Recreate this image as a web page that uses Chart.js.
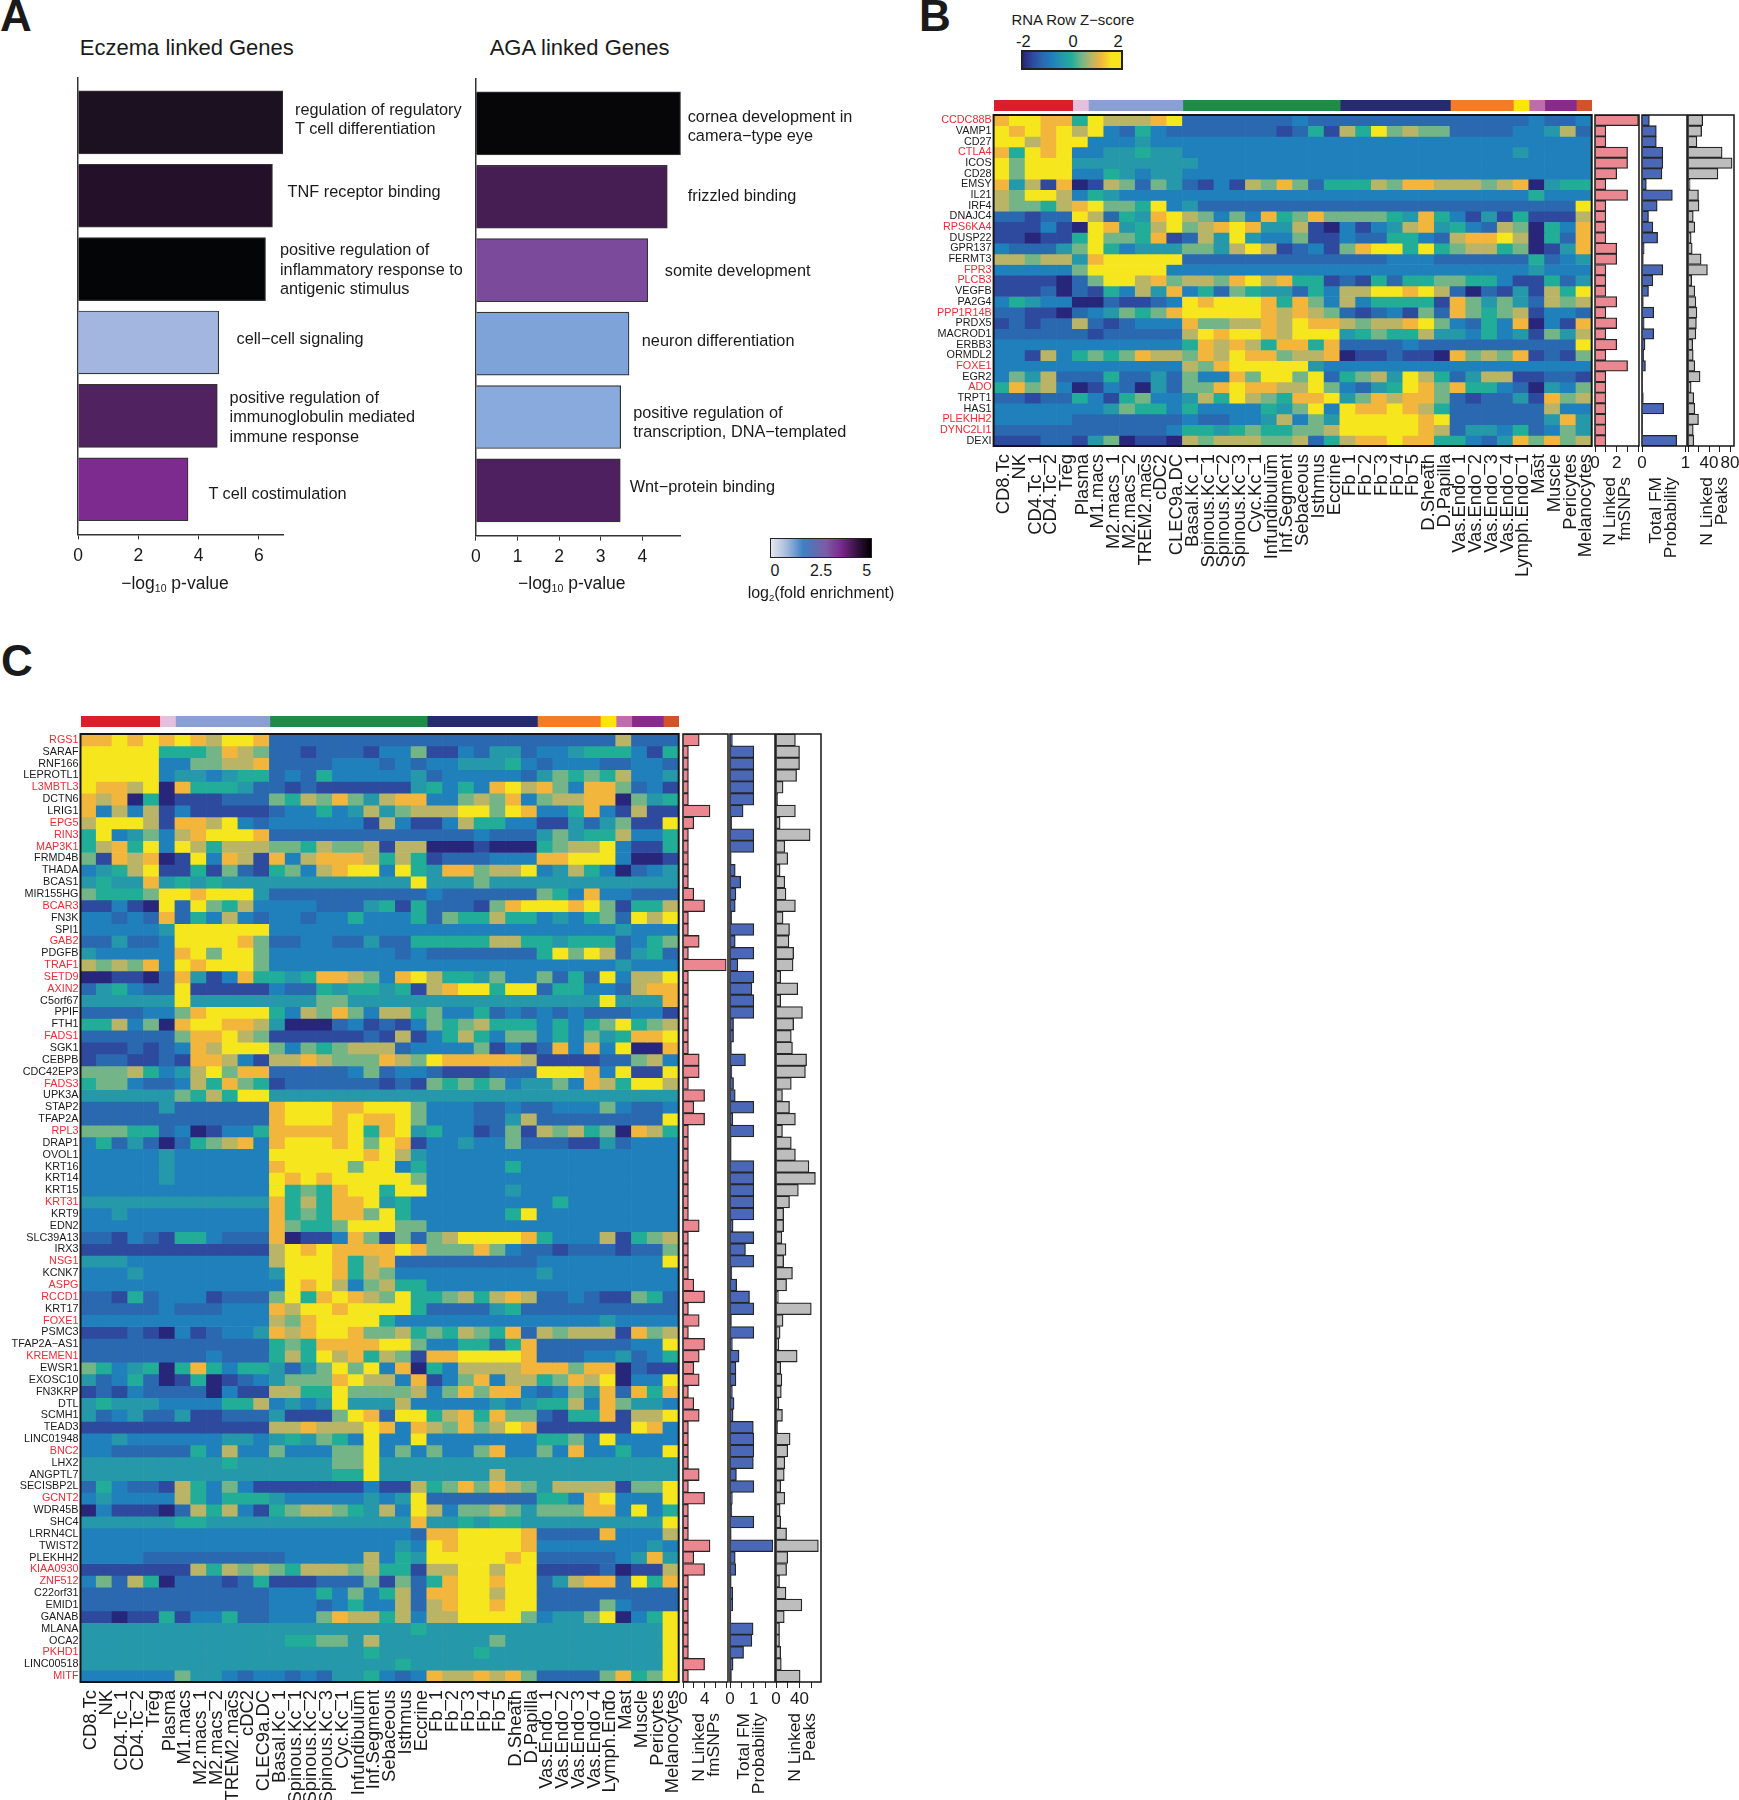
<!DOCTYPE html>
<html>
<head>
<meta charset="utf-8">
<title>Linked genes</title>
<script src="https://cdn.jsdelivr.net/npm/chart.js@4/dist/chart.umd.min.js"></script>
<style>
  html, body { margin: 0; background: #fff; }
  #page { position: relative; width: 1739px; height: 1800px; overflow: hidden; font-family: "Liberation Sans", Arial, sans-serif; color: #1a1a1a; }
  #page canvas { position: absolute; }
  .t { position: absolute; white-space: nowrap; transform: translateY(-50%); }
  .c { transform: translate(-50%, -50%); }
  .v { position: absolute; white-space: pre; text-align: right; transform-origin: 0 0; transform: rotate(-90deg); font-size: 17.4px; }
  .key { position: absolute; box-sizing: border-box; border: 2px solid #222; }
  sub { font-size: .6em; line-height: 0; vertical-align: -.3em; }
</style>
</head>
<body>
<div id="page"></div>
<script>
// panel A
var eczemaTerms = ['regulation of regulatory\nT cell differentiation', 'TNF receptor binding', 'positive regulation of\ninflammatory response to\nantigenic stimulus', 'cell\u2212cell signaling', 'positive regulation of\nimmunoglobulin mediated\nimmune response', 'T cell costimulation'];
var eczemaP = [6.8, 6.45, 6.22, 4.67, 4.62, 3.65];
var agaTerms = ['cornea development in\ncamera\u2212type eye', 'frizzled binding', 'somite development', 'neuron differentiation', 'positive regulation of\ntranscription, DNA\u2212templated', 'Wnt\u2212protein binding'];
var agaP = [4.92, 4.6, 4.13, 3.68, 3.48, 3.47];

// panel B / C shared columns
var bCols = ['CD8.Tc', 'NK', 'CD4.Tc_1', 'CD4.Tc_2', 'Treg', 'Plasma', 'M1.macs', 'M2.macs_1', 'M2.macs_2', 'TREM2.macs', 'cDC2', 'CLEC9a.DC', 'Basal.Kc_1', 'Spinous.Kc_1', 'Spinous.Kc_2', 'Spinous.Kc_3', 'Cyc.Kc_1', 'Infundibulum', 'Inf.Segment', 'Sebaceous', 'Isthmus', 'Eccrine', 'Fb_1', 'Fb_2', 'Fb_3', 'Fb_4', 'Fb_5', 'D.Sheath', 'D.Papilla', 'Vas.Endo_1', 'Vas.Endo_2', 'Vas.Endo_3', 'Vas.Endo_4', 'Lymph.Endo_1', 'Mast', 'Muscle', 'Pericytes', 'Melanocytes'];
var cCols = bCols.map(function (c) { return c === 'Lymph.Endo_1' ? 'Lymph.Endo' : c; });
var groupSizes = [5, 1, 6, 10, 7, 4, 1, 1, 2, 1];

var bGenes = ['CCDC88B', 'VAMP1', 'CD27', 'CTLA4', 'ICOS', 'CD28', 'EMSY', 'IL21', 'IRF4', 'DNAJC4', 'RPS6KA4', 'DUSP22', 'GPR137', 'FERMT3', 'FPR3', 'PLCB3', 'VEGFB', 'PA2G4', 'PPP1R14B', 'PRDX5', 'MACROD1', 'ERBB3', 'ORMDL2', 'FOXE1', 'EGR2', 'ADO', 'TRPT1', 'HAS1', 'PLEKHH2', 'DYNC2LI1', 'DEXI'];
var bRed = ['CCDC88B', 'CTLA4', 'RPS6KA4', 'FPR3', 'PLCB3', 'PPP1R14B', 'FOXE1', 'ADO', 'PLEKHH2', 'DYNC2LI1'];
// z-score level per cell, 0 = -2 ... 9 = +2, spaces only split the cell type groups
var bRows = [
  '89988 5 977789 2222222322 2222222 2222 2 3 22 3',
  '98989 7 932532 2222221251 7596766 2222 3 3 47 2',
  '99789 9 333433 3333333333 3333333 3333 3 3 33 3',
  '85989 3 344544 3333333333 3333333 3333 4 3 33 3',
  '96999 4 444444 4333333333 3333333 3333 3 3 33 3',
  '96999 3 354344 3333333333 3333333 3333 3 3 33 3',
  '84718 0 176264 2131768625 5576887 7767 8 0 45 5',
  '76997 3 543333 3333333333 3333333 3333 3 5 33 3',
  '76657 8 966593 4222222222 2222222 2222 2 2 22 9',
  '22122 9 725489 7636385686 6665485 3141 5 1 11 7',
  '11131 0 984579 6789844710 3134784 5327 6 0 53 8',
  '11011 5 966581 2749433611 3225532 7889 7 0 52 8',
  '32224 6 953444 6647971231 6899595 6775 6 0 14 8',
  '77677 4 899999 2222222222 2223332 2222 2 5 23 4',
  '33333 6 999993 3333333333 3333333 3333 3 4 33 3',
  '11110 2 699786 7768978551 2152556 6553 1 1 52 4',
  '11120 2 153748 3526544253 7799897 2021 4 1 75 9',
  '35433 0 021123 9899985863 7355551 8646 4 2 76 7',
  '22110 2 346568 9999987876 2123162 8656 7 1 33 2',
  '12122 7 212333 8667787988 7677896 3253 8 0 31 8',
  '22222 2 122222 7989987999 4565574 4353 4 1 64 7',
  '33333 3 333333 5878758858 2222322 2222 2 2 22 9',
  '33173 5 656877 6879886778 0112110 8676 8 1 21 6',
  '33333 3 333333 7689999943 3333333 3333 3 3 33 3',
  '36472 2 252242 6338699692 5674975 2477 1 1 22 1',
  '58673 0 132042 6689887796 3245986 8553 2 0 43 6',
  '22122 5 315633 4759765889 4687886 2122 4 1 86 7',
  '33333 3 346553 5333354693 9889875 2222 2 2 73 3',
  '33333 2 222222 3223347364 9999989 2222 2 2 48 4',
  '22222 2 222223 5545655667 9999987 2443 5 2 36 4',
  '11122 1 460110 7677766725 7889885 5324 8 6 86 7'
];
var bSnps = [4, 1, 1, 3, 3, 2, 1, 3, 1, 1, 1, 1, 2, 2, 1, 1, 1, 2, 1, 2, 1, 2, 1, 3, 1, 1, 1, 1, 1, 1, 1];
var bProb = [0.17, 0.33, 0.33, 0.48, 0.48, 0.46, 0.1, 0.7, 0.35, 0.15, 0.25, 0.36, 0.05, 0.03, 0.48, 0.25, 0.15, 0.03, 0.27, 0.05, 0.27, 0.07, 0.04, 0.08, 0.01, 0.01, 0.03, 0.5, 0.01, 0.01, 0.8];
var bPeaks = [28, 26, 17, 65, 84, 57, 4, 20, 21, 10, 13, 6, 8, 25, 37, 7, 13, 15, 17, 16, 15, 9, 10, 13, 23, 6, 11, 13, 20, 10, 11];

var cGenes = ['RGS1', 'SARAF', 'RNF166', 'LEPROTL1', 'L3MBTL3', 'DCTN6', 'LRIG1', 'EPG5', 'RIN3', 'MAP3K1', 'FRMD4B', 'THADA', 'BCAS1', 'MIR155HG', 'BCAR3', 'FN3K', 'SPI1', 'GAB2', 'PDGFB', 'TRAF1', 'SETD9', 'AXIN2', 'C5orf67', 'PPIF', 'FTH1', 'FADS1', 'SGK1', 'CEBPB', 'CDC42EP3', 'FADS3', 'UPK3A', 'STAP2', 'TFAP2A', 'RPL3', 'DRAP1', 'OVOL1', 'KRT16', 'KRT14', 'KRT15', 'KRT31', 'KRT9', 'EDN2', 'SLC39A13', 'IRX3', 'NSG1', 'KCNK7', 'ASPG', 'RCCD1', 'KRT17', 'FOXE1', 'PSMC3', 'TFAP2A\u2212AS1', 'KREMEN1', 'EWSR1', 'EXOSC10', 'FN3KRP', 'DTL', 'SCMH1', 'TEAD3', 'LINC01948', 'BNC2', 'LHX2', 'ANGPTL7', 'SECISBP2L', 'GCNT2', 'WDR45B', 'SHC4', 'LRRN4CL', 'TWIST2', 'PLEKHH2', 'KIAA0930', 'ZNF512', 'C22orf31', 'EMID1', 'GANAB', 'MLANA', 'OCA2', 'PKHD1', 'LINC00518', 'MITF'];
var cRed = ['RGS1', 'L3MBTL3', 'EPG5', 'RIN3', 'MAP3K1', 'BCAR3', 'GAB2', 'TRAF1', 'SETD9', 'AXIN2', 'FADS1', 'FADS3', 'RPL3', 'KRT31', 'NSG1', 'ASPG', 'RCCD1', 'FOXE1', 'KREMEN1', 'BNC2', 'GCNT2', 'KIAA0930', 'ZNF512', 'PKHD1', 'MITF'];
var cRows = [
  '88989 8 987998 2222222222 2222222 2222 2 7 22 2',
  '99999 5 556876 2212221336 1132442 3345 5 5 31 5',
  '99999 3 366778 2222333232 3344453 2333 2 2 33 2',
  '99999 3 443455 2325333334 2333332 4656 5 7 33 4',
  '98879 0 855542 2121111114 5353897 8638 8 6 23 1',
  '87805 0 111222 6576864788 3367683 6778 8 0 64 5',
  '83737 1 311111 2335347467 7799698 3358 3 1 71 1',
  '79997 1 887932 3333331731 1375533 1142 4 6 11 9',
  '59346 3 789998 2222222222 2223222 4645 5 7 33 5',
  '57859 3 975777 6657667177 0001000 5677 9 3 11 5',
  '61878 0 193871 8378887575 1222333 8899 9 3 00 1',
  '34579 1 151621 5637899395 4886779 3475 3 0 23 4',
  '45448 4 545444 4444444449 4446444 4444 4 4 44 4',
  '65556 9 989994 2222222222 3222222 6538 3 3 22 2',
  '11310 9 296573 3332224515 2221689 9989 6 1 55 7',
  '33232 8 253732 3323353335 2655755 3435 6 2 97 9',
  '33333 4 999999 3333333333 3333333 3333 3 4 33 3',
  '22422 3 999986 2233224225 5555775 5455 5 2 35 6',
  '43333 3 896996 3333333323 2222222 5969 7 2 45 2',
  '76768 3 989996 3333333333 3333333 3333 3 4 33 3',
  '00110 2 841385 5458876389 7554633 6252 9 3 77 9',
  '24532 2 911111 3225455451 7899599 2553 3 2 78 8',
  '44444 4 944444 4446644444 4444444 4444 9 4 44 8',
  '22223 3 689999 5376863775 6335232 3232 2 2 33 1',
  '55736 0 899887 4000231213 6567555 3535 6 9 56 7',
  '22222 2 688976 1111112171 3575366 3536 4 5 88 9',
  '11121 2 387999 6365677723 3336131 2838 3 9 00 8',
  '12211 2 188731 7787666876 9888887 1111 2 2 67 3',
  '66675 3 479688 2222236233 2111222 9998 3 9 11 9',
  '56632 2 375865 1222222121 6565634 4638 7 5 99 7',
  '44444 4 657599 4444444444 4444444 4444 4 4 44 4',
  '22222 4 222222 8999889996 3332232 2333 6 3 22 3',
  '22222 2 222222 8999898896 3332247 2222 2 2 22 9',
  '66655 2 301335 8888895894 5331261 7675 6 0 87 5',
  '35242 0 256783 8999896981 3343362 2211 4 2 33 3',
  '33333 4 333333 9999998974 3333333 3333 3 3 33 3',
  '33333 4 333333 8999969935 3333353 3333 3 3 33 3',
  '33333 4 333333 9898999996 3333333 3333 3 3 33 3',
  '33333 3 333333 9565899599 3333343 3333 3 3 33 3',
  '44444 4 444444 8575889453 3333333 3533 3 3 33 3',
  '33433 3 333333 8565886953 3333359 3333 3 3 33 3',
  '33333 3 333333 8655699966 3333333 3333 3 3 33 3',
  '22132 1 553222 8011386162 6799998 5333 7 1 56 7',
  '11111 1 111111 7989888898 6668632 2122 2 1 22 6',
  '44433 3 333333 7999857822 2222222 3333 3 3 33 9',
  '33343 3 333333 4999857633 3333333 4333 3 3 33 3',
  '33333 3 333333 3989736755 3333333 3333 3 3 33 3',
  '22152 3 331222 6958987695 5675787 2232 1 1 65 2',
  '22222 3 222333 8799899995 2222452 2222 2 2 22 2',
  '33333 3 333333 7689999533 3333333 3333 4 3 33 3',
  '11121 0 312334 8789986675 6576582 7677 7 1 86 7',
  '22222 2 222222 5658888996 3355258 2222 2 2 33 9',
  '22222 2 223222 5759785761 8899998 2223 3 4 23 5',
  '65345 0 585355 4246969380 5377778 8868 8 0 21 1',
  '42352 0 150123 4666897738 1368377 5687 9 0 33 9',
  '12132 2 220311 7755966667 3686883 2364 8 2 85 8',
  '45444 3 333557 3434944473 3333434 5573 8 6 44 3',
  '42342 2 411222 4111698299 5785866 2155 8 1 77 9',
  '11111 1 111111 7787779838 7686798 1111 1 1 98 3',
  '33433 3 333443 4546539339 3333333 5563 9 3 33 3',
  '33222 2 253733 6333669363 6336833 6383 3 5 33 9',
  '44444 4 444544 4444669444 4444444 4444 4 4 44 4',
  '44444 4 444444 4444559444 4444744 4444 4 4 44 4',
  '25322 1 753631 1111113117 5686876 4777 7 1 66 9',
  '34333 3 753555 4333334349 2222222 5538 9 3 33 9',
  '03111 0 275731 5677654739 7366764 6668 8 3 93 5',
  '44444 4 554444 4444444448 4454554 4444 4 4 44 9',
  '33333 3 333333 3333333332 8899998 2222 8 3 33 7',
  '33333 3 333333 3333333343 9899998 3333 3 3 34 3',
  '33332 2 222222 2333337354 9999989 2222 2 3 48 4',
  '11111 1 175767 6577767551 7799799 1111 2 0 11 7',
  '36275 0 222125 1112226162 5899899 2478 8 2 95 8',
  '22222 2 222222 3335363572 8899799 2222 2 2 22 2',
  '22222 2 222222 3332353372 7899899 2222 6 3 22 2',
  '11011 5 133522 3336877573 7799996 3446 9 0 35 9',
  '44444 4 444444 4444444445 4444444 4444 4 4 44 9',
  '44444 4 444444 4556647444 4444644 4444 4 4 44 9',
  '44444 4 444444 4444445444 4445444 4444 4 4 44 9',
  '44444 4 444444 4444444454 4444444 4444 4 4 44 9',
  '33333 3 644323 3232445323 8778786 2222 6 8 56 9'
];
var cSnps = [3, 1, 1, 1, 1, 1, 5, 2, 1, 1, 1, 1, 1, 2, 4, 1, 1, 3, 1, 8, 1, 1, 1, 1, 1, 1, 1, 3, 3, 1, 4, 2, 4, 1, 1, 1, 1, 1, 1, 1, 1, 3, 1, 1, 1, 1, 2, 4, 1, 3, 1, 4, 3, 2, 3, 1, 2, 3, 1, 1, 1, 1, 3, 1, 4, 1, 1, 1, 5, 2, 4, 1, 1, 1, 1, 1, 1, 1, 4, 1];
var cProb = [0.1, 1, 1, 1, 1, 1, 0.55, 0.07, 1, 1, 0.05, 0.22, 0.45, 0.25, 0.22, 0.07, 1, 0.22, 1, 0.33, 1, 0.92, 1, 1, 0.15, 0.15, 0.06, 0.65, 0.08, 0.15, 0.22, 1, 0.12, 1, 0.05, 0.05, 1, 1, 1, 1, 1, 0.13, 1, 0.65, 1, 0.08, 0.28, 0.82, 1, 0.06, 1, 0.1, 0.38, 0.25, 0.25, 0.1, 0.17, 0.13, 0.98, 1, 1, 0.98, 0.27, 1, 0.1, 0.08, 1, 0.05, 1.8, 0.22, 0.24, 0.05, 0.12, 0.12, 0.04, 0.97, 0.92, 0.57, 0.13, 0.06];
var cPeaks = [33, 40, 40, 35, 12, 3, 33, 7, 58, 15, 20, 7, 15, 17, 33, 12, 23, 22, 30, 29, 8, 37, 8, 45, 30, 26, 28, 52, 50, 26, 11, 23, 33, 11, 26, 33, 56, 67, 38, 23, 13, 13, 10, 17, 13, 28, 18, 4, 60, 12, 7, 5, 36, 8, 10, 9, 5, 11, 3, 24, 20, 15, 14, 8, 15, 7, 8, 18, 72, 20, 18, 6, 17, 44, 14, 6, 6, 8, 9, 41];

// colours
var zColors = ['#28267a', '#2e4a9e', '#2a69b0', '#2080bc', '#2598aa', '#22ad98', '#74b588', '#bab566', '#f2b63c', '#f5e61e'];
var groupColors = ['#d91f2b', '#e5bfde', '#8a9fd4', '#1e8c46', '#262a6e', '#f47c26', '#fde50a', '#bf6cae', '#8a2a8c', '#d4522a'];
var eczemaColors = ['#1c1120', '#241029', '#030507', '#a3b6e0', '#50225f', '#7e2b8f'];
var agaColors = ['#060508', '#471e54', '#7c4a9a', '#7ea3d8', '#89aadc', '#4f2060'];
var INK = '#1a1a1a';
var RED = '#ee2b36';
var FONT = '"Liberation Sans", Arial, sans-serif';

Chart.defaults.font.family = FONT;
Chart.defaults.color = INK;
Chart.defaults.animation = false;
Chart.defaults.responsive = false;
Chart.defaults.plugins.legend.display = false;
Chart.defaults.plugins.tooltip.enabled = false;

var page = document.getElementById('page');

function addCanvas(left, top, w, h) {
  var c = document.createElement('canvas');
  c.width = w;
  c.height = h;
  c.style.left = left + 'px';
  c.style.top = top + 'px';
  page.appendChild(c);
  return c;
}

function addText(html, x, y, size, extra) {
  var d = document.createElement('div');
  d.className = 't';
  d.innerHTML = html;
  d.style.left = x + 'px';
  d.style.top = y + 'px';
  d.style.fontSize = size + 'px';
  if (extra) { d.className += ' ' + extra; }
  page.appendChild(d);
  return d;
}

// two-line title reading bottom to top, right end at yTop
function addVertical(text, x, yTop, lineH) {
  var d = document.createElement('div');
  d.className = 'v';
  d.textContent = text;
  d.style.width = '120px';
  d.style.lineHeight = lineH + 'px';
  d.style.left = x + 'px';
  d.style.top = (yTop + 120) + 'px';
  page.appendChild(d);
}

function fitAxis(w, h) {
  return function (scale) {
    if (w !== null) { scale.width = w; }
    if (h !== null) { scale.height = h; }
    scale.paddingLeft = 0;
    scale.paddingRight = 0;
    scale.paddingTop = 0;
    scale.paddingBottom = 0;
  };
}

var framePlugin = {
  id: 'frame',
  afterDraw: function (chart, args, opts) {
    var a = chart.chartArea, ctx = chart.ctx;
    ctx.save();
    ctx.strokeStyle = '#151515';
    ctx.lineWidth = opts.width || 1.5;
    ctx.strokeRect(a.left, a.top, a.right - a.left, a.bottom - a.top);
    ctx.restore();
  }
};

// panel A bars
function drawTermChart(left, top, w, h, pad, axisH, scaleMax, step, values, colors) {
  new Chart(addCanvas(left, top, w, h), {
    type: 'bar',
    data: {
      datasets: [{
        data: values.map(function (v, i) { return {x: v, y: i}; }),
        backgroundColor: colors,
        borderColor: '#333',
        borderWidth: 1.2,
        barThickness: 63
      }]
    },
    options: {
      indexAxis: 'y',
      layout: {padding: pad},
      scales: {
        x: {
          type: 'linear', min: 0, max: scaleMax,
          afterFit: fitAxis(null, axisH),
          border: {color: '#333', width: 1.5},
          grid: {drawOnChartArea: false, tickLength: 5, color: '#333'},
          ticks: {stepSize: step, includeBounds: false, padding: 6, font: {size: 17.5}, color: INK}
        },
        y: {
          type: 'linear', min: -0.604, max: 5.615, reverse: true, offset: false,
          afterFit: fitAxis(0, null),
          border: {color: '#333', width: 1.5},
          grid: {display: false},
          ticks: {display: false}
        }
      }
    }
  });
}

// heatmap built from floating bars, one dataset per gene
function drawHeatmap(left, top, w, h, pad, axisW, axisH, cols, genes, red, rows) {
  var levels = rows.map(function (r) { return r.replace(/ /g, '').split('').map(Number); });
  new Chart(addCanvas(left, top, w, h), {
    type: 'bar',
    data: {
      labels: cols,
      datasets: levels.map(function (row, i) {
        return {
          data: row.map(function () { return [i - 0.5, i + 0.5]; }),
          backgroundColor: row.map(function (z) { return zColors[z]; }),
          borderWidth: 0,
          grouped: false,
          barPercentage: 1,
          categoryPercentage: 1
        };
      })
    },
    options: {
      layout: {padding: pad},
      plugins: {frame: {width: 2}},
      scales: {
        x: {
          afterFit: fitAxis(null, axisH),
          border: {display: false},
          grid: {display: false, drawTicks: false},
          ticks: {autoSkip: false, minRotation: 90, maxRotation: 90, padding: 8, labelOffset: 2.5, font: {size: 18.4}, color: INK}
        },
        y: {
          type: 'linear', min: -0.5, max: genes.length - 0.5, reverse: true,
          afterFit: fitAxis(axisW, null),
          afterBuildTicks: function (scale) {
            scale.ticks = genes.map(function (g, i) { return {value: i}; });
          },
          border: {display: false},
          grid: {display: false, drawTicks: false},
          ticks: {
            autoSkip: false, padding: 2, font: {size: 10.8},
            callback: function (v) { return genes[v]; },
            color: function (ctx) { return red.indexOf(genes[ctx.tick.value]) >= 0 ? RED : INK; }
          }
        }
      }
    },
    plugins: [framePlugin]
  });
}

function drawGroupBar(left, top, w, h) {
  new Chart(addCanvas(left, top, w, h), {
    type: 'bar',
    data: {
      labels: ['cell type'],
      datasets: groupSizes.map(function (n, i) {
        return {data: [n], backgroundColor: groupColors[i], borderWidth: 0, barPercentage: 1, categoryPercentage: 1};
      })
    },
    options: {
      indexAxis: 'y',
      scales: {
        x: {stacked: true, min: 0, max: 38, display: false},
        y: {stacked: true, display: false}
      }
    }
  });
}

// side bars next to a heatmap
function drawSideBars(left, top, w, h, pad, axisH, genes, values, color, scaleMax, step, shown) {
  new Chart(addCanvas(left, top, w, h), {
    type: 'bar',
    data: {
      labels: genes,
      datasets: [{
        data: values,
        backgroundColor: color,
        borderColor: '#262626',
        borderWidth: 1.3,
        barPercentage: 1,
        categoryPercentage: 1
      }]
    },
    options: {
      indexAxis: 'y',
      layout: {padding: pad},
      plugins: {frame: {width: 1.5}},
      scales: {
        x: {
          type: 'linear', min: 0, max: scaleMax,
          afterFit: fitAxis(null, axisH),
          border: {display: false},
          grid: {drawOnChartArea: false, tickLength: 6, color: '#222'},
          ticks: {
            stepSize: step, includeBounds: false, autoSkip: false, maxRotation: 0, padding: 1, font: {size: 17}, color: INK,
            callback: function (v) { return shown.indexOf(v) >= 0 ? String(v) : ''; }
          }
        },
        y: {display: false}
      }
    },
    plugins: [framePlugin]
  });
}

function handlePanelA() {
  addText('A', 0, 16, 44).style.fontWeight = 'bold';
  addText('Eczema linked Genes', 79.8, 48, 22);
  addText('AGA linked Genes', 489.7, 48, 22);

  drawTermChart(40, 60, 258, 560, {left: 38, right: 15, top: 18}, 85.6, 6.8, 2, eczemaP, eczemaColors);
  drawTermChart(440, 60, 256, 560, {left: 35.9, right: 15.2, top: 19}, 84.4, 4.925, 1, agaP, agaColors);

  var eczemaAt = [[295, 108.7], [287.6, 191], [280, 249.4], [236.5, 338], [229.6, 396.8], [208.4, 492.5]];
  var agaAt = [[687.7, 115.8], [687.7, 195.3], [664.8, 269.6], [641.8, 340], [633.2, 411.9], [629.7, 486.2]];
  function termLabels(terms, at) {
    terms.forEach(function (term, i) {
      term.split('\n').forEach(function (line, j) {
        addText(line, at[i][0], at[i][1] + j * 19.5, 16.3);
      });
    });
  }
  termLabels(eczemaTerms, eczemaAt);
  termLabels(agaTerms, agaAt);

  addText('\u2212log<sub>10</sub> p-value', 175, 583, 17.5, 'c');
  addText('\u2212log<sub>10</sub> p-value', 571.8, 583, 17.5, 'c');

  var key = document.createElement('div');
  key.className = 'key';
  key.style.cssText = 'left:770.4px;top:537.5px;width:102px;height:20px;border-width:1.5px;background:linear-gradient(to right,#e6e8ec 0%,#a9bcde 15%,#3f80c2 32%,#7d5aa6 55%,#7a2a8e 70%,#2c1035 88%,#000 100%)';
  page.appendChild(key);
  addText('0', 775, 570.8, 16, 'c');
  addText('2.5', 821, 570.8, 16, 'c');
  addText('5', 866.8, 570.8, 16, 'c');
  addText('log<sub>2</sub>(fold enrichment)', 821, 593, 16, 'c');
}

function handlePanelB() {
  addText('B', 919, 16, 44).style.fontWeight = 'bold';
  addText('RNA Row Z\u2212score', 1011.4, 20, 14.9);
  addText('-2', 1023.4, 41, 16.5, 'c');
  addText('0', 1073, 41, 16.5, 'c');
  addText('2', 1118, 41, 16.5, 'c');
  var key = document.createElement('div');
  key.className = 'key';
  key.style.cssText = 'left:1021.3px;top:50px;width:102px;height:20px;background:linear-gradient(to right,' + zColors.concat(zColors[9]).join(',') + ')';
  page.appendChild(key);

  drawGroupBar(994, 100, 598, 11);
  drawHeatmap(924, 113, 674, 477, {top: 2, right: 6.3}, 69.6, 144, bCols, bGenes, bRed, bRows);
  drawSideBars(1585.4, 113, 64.4, 380, {top: 2, left: 10, right: 10}, 47, bGenes, bSnps, '#ea8790', 4.05, 1, [0, 2]);
  drawSideBars(1631.9, 113, 65, 380, {top: 2, left: 10, right: 10}, 47, bGenes, bProb, '#4b68b8', 1.037, 1, [0, 1]);
  drawSideBars(1677.8, 113, 61, 380, {top: 2, left: 10, right: 5}, 47, bGenes, bPeaks, '#bdbdbd', 87.6, 20, [40, 80]);

  addVertical('N Linked\nfmSNPs', 1602, 477, 14.6);
  addVertical('Total FM\nProbability', 1648, 477, 14.6);
  addVertical('N Linked\nPeaks', 1699, 477, 14.6);
}

function handlePanelC() {
  addText('C', 1, 661, 44).style.fontWeight = 'bold';

  drawGroupBar(81, 716, 598, 11);
  drawHeatmap(5, 732, 680, 1068, {top: 2, right: 6.3}, 75.5, 118, cCols, cGenes, cRed, cRows);
  drawSideBars(672.9, 732, 65, 980, {top: 2, left: 10, right: 10}, 30, cGenes, cSnps, '#ea8790', 8.33, 2, [0, 4]);
  drawSideBars(719.5, 732, 65, 980, {top: 2, left: 10, right: 10}, 30, cGenes, cProb, '#4b68b8', 1.89, 0.5, [0, 1]);
  drawSideBars(765.5, 732, 65.5, 980, {top: 2, left: 10, right: 10}, 30, cGenes, cPeaks, '#bdbdbd', 76.5, 20, [0, 40]);

  addVertical('N Linked\nfmSNPs', 691.4, 1713, 14.8);
  addVertical('Total FM\nProbability', 736.4, 1713, 14.8);
  addVertical('N Linked\nPeaks', 787, 1713, 14.8);
}

handlePanelA();
handlePanelB();
handlePanelC();
</script>
</body>
</html>
